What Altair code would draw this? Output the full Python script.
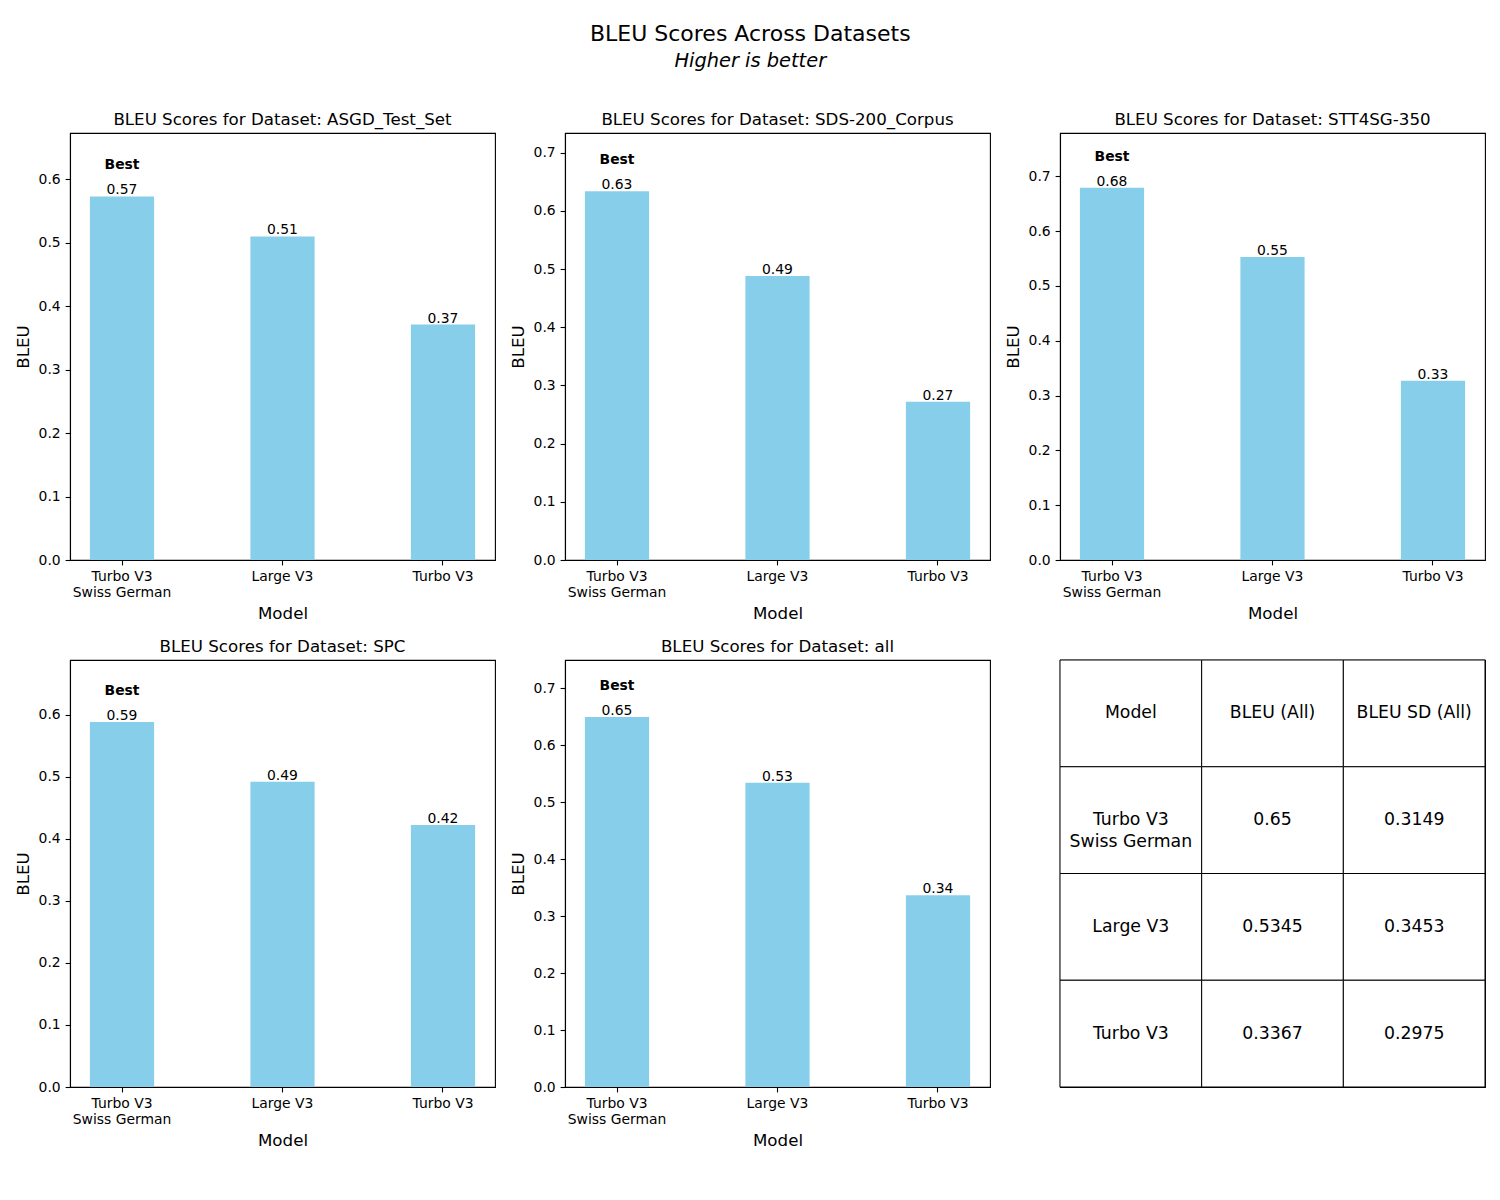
import altair as alt
import pandas as pd

# ---------------- data ----------------
datasets = ["ASGD_Test_Set", "SDS-200_Corpus", "STT4SG-350", "SPC", "all"]
models = ["Turbo V3\nSwiss German", "Large V3", "Turbo V3"]
bleu_asgd = [0.573, 0.510, 0.371]
bleu_sds = [0.634, 0.488, 0.272]
bleu_stt = [0.679, 0.553, 0.327]
bleu_spc = [0.588, 0.492, 0.422]
bleu_all = [0.65, 0.5345, 0.3367]
bleu_sd_all = [0.3149, 0.3453, 0.2975]
table_header = ["Model", "BLEU (All)", "BLEU SD (All)"]
y_ticks = [0.0, 0.1, 0.2, 0.3, 0.4, 0.5, 0.6, 0.7]

series = [bleu_asgd, bleu_sds, bleu_stt, bleu_spc, bleu_all]

FONT = "DejaVu Sans"
BAR_COLOR = "#87CEEB"


def bar_panel(name, values):
    df = pd.DataFrame({
        "model": models,
        "value": values,
        "label": [f"{v:.2f}" for v in values],
    })
    best_val = max(values)
    df["best"] = [v == best_val for v in values]
    ymax = best_val + 0.1
    ticks = [t for t in y_ticks if t <= ymax + 1e-9]

    x = alt.X(
        "model:N",
        sort=models,
        scale=alt.Scale(paddingInner=0.6, paddingOuter=0.124),
        axis=alt.Axis(title="Model", labelAngle=0,
                      labelExpr="split(datum.label, '\\n')"),
    )
    y = alt.Y(
        "value:Q",
        scale=alt.Scale(domain=[0, ymax], nice=False, zero=True),
        axis=alt.Axis(title="BLEU", values=ticks, format=".1f"),
    )
    base = alt.Chart(df)
    bars = base.mark_bar(color=BAR_COLOR).encode(x=x, y=y)
    labels = base.mark_text(baseline="bottom", dy=1, fontSize=13.9,
                            font=FONT, color="black").encode(
        x=alt.X("model:N", sort=models), y="value:Q", text="label:N")
    best = base.transform_filter("datum.best").mark_text(
        baseline="middle", dy=-31, fontSize=13.9, fontWeight="bold",
        font=FONT, color="black").encode(
        x=alt.X("model:N", sort=models), y="value:Q", text=alt.value("Best"))
    return alt.layer(bars, labels, best).properties(
        width=425, height=427,
        title=alt.TitleParams(f"BLEU Scores for Dataset: {name}",
                              fontSize=16.67, fontWeight="normal", font=FONT,
                              baseline="alphabetic", offset=-9, frame="group",
                              anchor="middle", color="black"),
    )


panels = [bar_panel(n, v) for n, v in zip(datasets, series)]

# ---------------- table ----------------
rows = [table_header]
for m, b, s in zip(models, bleu_all, bleu_sd_all):
    rows.append([m, f"{b:g}", f"{s:g}"])
cells = []
for r, row in enumerate(rows):
    for c, txt in enumerate(row):
        cells.append({"r": r, "c": c, "text": txt})
tdf = pd.DataFrame(cells)

tx = alt.X("c:O", axis=None, scale=alt.Scale(paddingInner=0, paddingOuter=0))
ty = alt.Y("r:O", axis=None, scale=alt.Scale(paddingInner=0, paddingOuter=0))
tbase = alt.Chart(tdf)
trect = tbase.mark_rect(fill="white", stroke="black", strokeWidth=1).encode(x=tx, y=ty)
ttext = tbase.mark_text(fontSize=17.3, font=FONT, color="black", lineBreak="\n",
                        lineHeight=22).encode(x=tx, y=ty, text="text:N")
table = alt.layer(trect, ttext).properties(width=425, height=427)

chart = alt.concat(*panels, table, columns=3, spacing={"row": 100, "column": 70},
                   bounds="flush").properties(
    title=alt.TitleParams(
        "BLEU Scores Across Datasets",
        subtitle="Higher is better",
        fontSize=22, fontWeight="normal", font=FONT, color="black",
        subtitleFontSize=19.4, subtitleFontStyle="italic", subtitleFont=FONT,
        subtitleColor="black", subtitlePadding=6, anchor="middle", offset=40,
    ),
    padding={"left": 6, "top": 15, "right": 5, "bottom": 5},
).configure_axis(
    labelFont=FONT, titleFont=FONT, labelFontSize=13.9, titleFontSize=16.67,
    titleFontWeight="normal", labelColor="black", titleColor="black",
    domainColor="black", tickColor="black", domainWidth=1.1, tickWidth=1.1,
    tickSize=4.9, labelPadding=4.9, titlePadding=6, grid=False,
    labelLineHeight=16,
).configure_view(stroke="black", strokeWidth=1.1)

chart.save("out.html", embed_options={"renderer": "svg", "actions": False})
